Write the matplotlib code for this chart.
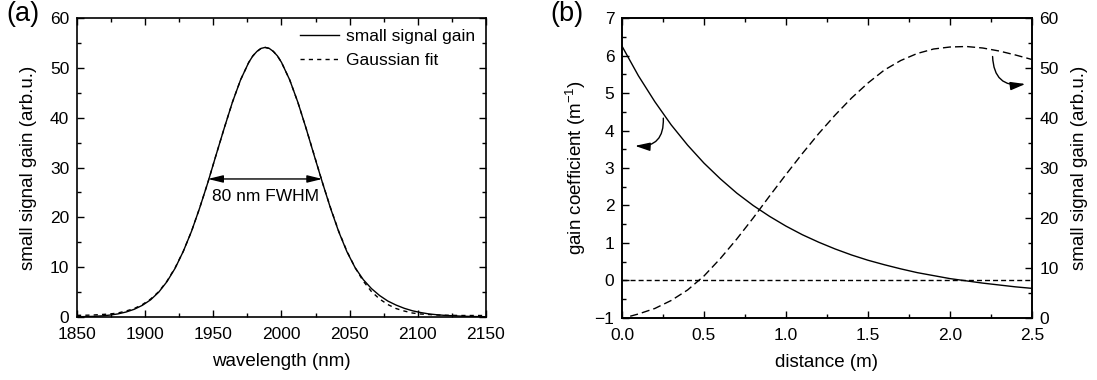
import matplotlib
matplotlib.use("Agg")
import matplotlib.pyplot as plt
from matplotlib.patches import FancyArrowPatch
from matplotlib.ticker import MultipleLocator

plt.rcParams['font.family'] = ['Liberation Sans', 'DejaVu Sans']
plt.rcParams['mathtext.fontset'] = 'custom'
plt.rcParams['mathtext.rm'] = 'Liberation Sans'
plt.rcParams['mathtext.default'] = 'regular'

# ---- panel (a): gain spectrum ----
wavelength = [1850, 1856, 1862, 1868, 1874, 1880, 1886, 1892, 1898, 1904,
              1910, 1916, 1922, 1928, 1934, 1940, 1946, 1952, 1958, 1964,
              1970, 1976, 1979, 1982, 1985, 1988, 1991, 1994, 1997, 2000,
              2006, 2012, 2018, 2024, 2030, 2036, 2042, 2048, 2054, 2060,
              2066, 2072, 2078, 2084, 2090, 2096, 2102, 2108, 2114, 2120,
              2126, 2132, 2138, 2144, 2150]
small_signal_gain = [0.05, 0.08, 0.13, 0.22, 0.38, 0.62, 1.0, 1.55, 2.35, 3.45,
                     5.0, 7.1, 9.8, 13.2, 17.2, 21.9, 27.0, 32.5, 37.9, 43.1,
                     47.6, 51.1, 52.4, 53.3, 53.9, 54.1, 53.9, 53.3, 52.4, 51.1,
                     47.6, 43.1, 37.9, 32.4, 27.0, 21.8, 17.1, 13.1, 9.9, 7.5,
                     5.7, 4.3, 3.2, 2.4, 1.75, 1.25, 0.9, 0.62, 0.45, 0.32,
                     0.24, 0.17, 0.12, 0.08, 0.05]
gaussian_fit = [0.33, 0.35, 0.4, 0.5, 0.6, 0.8, 1.2, 1.7, 2.5, 3.6,
                5.1, 7.2, 9.9, 13.2, 17.2, 21.9, 27.0, 32.5, 37.9, 43.1,
                47.6, 51.1, 52.4, 53.3, 53.9, 54.1, 53.9, 53.3, 52.4, 51.1,
                47.6, 43.1, 37.9, 32.5, 27.0, 21.9, 17.2, 13.2, 9.9, 7.2,
                5.1, 3.6, 2.5, 1.7, 1.2, 0.8, 0.6, 0.5, 0.4, 0.35,
                0.33, 0.3, 0.3, 0.3, 0.3]
fwhm_edges = [1946, 2030]
fwhm_level = 27.7

# ---- panel (b): gain along the fibre ----
distance = [0.0, 0.1, 0.2, 0.3, 0.4, 0.5, 0.6, 0.7, 0.8, 0.9, 1.0, 1.1, 1.2,
            1.3, 1.4, 1.5, 1.6, 1.7, 1.8, 1.9, 2.0, 2.1, 2.2, 2.3, 2.4, 2.5]
gain_coefficient = [6.25, 5.46, 4.77, 4.15, 3.61, 3.13, 2.71, 2.33, 2.00, 1.71,
                    1.45, 1.22, 1.02, 0.84, 0.68, 0.54, 0.42, 0.31, 0.21, 0.13,
                    0.05, -0.01, -0.07, -0.12, -0.17, -0.21]
distance_g = [0.05, 0.1, 0.2, 0.3, 0.4, 0.5, 0.6, 0.7, 0.8, 0.9, 1.0, 1.1, 1.2,
              1.3, 1.4, 1.5, 1.6, 1.7, 1.8, 1.9, 2.0, 2.1, 2.2, 2.3, 2.4, 2.5]
cumulative_gain = [0.35, 0.8, 1.9, 3.5, 5.6, 8.4, 11.9, 15.8, 20.0, 24.4, 28.7,
                   32.9, 36.9, 40.6, 44.0, 47.0, 49.6, 51.5, 52.9, 53.8, 54.2,
                   54.3, 54.0, 53.4, 52.6, 51.7]

TICK_FS = 12.5
LABEL_FS = 13.5
PANEL_FS = 19.5

fig = plt.figure(figsize=(10.97, 3.80), dpi=100)
ax_a = fig.add_axes([0.0702, 0.1658, 0.3728, 0.7868])
ax_b = fig.add_axes([0.5670, 0.1632, 0.3737, 0.7894])
ax_b2 = ax_b.twinx()


def style_ticks(ax, **sides):
    ax.tick_params(which='both', direction='in', labelsize=TICK_FS, **sides)
    ax.tick_params(axis='x', which='both', pad=7)
    ax.tick_params(axis='y', which='both', pad=5.5)
    ax.tick_params(which='major', length=5, width=1)
    ax.tick_params(which='minor', length=3, width=1)
    for sp in ax.spines.values():
        sp.set_linewidth(1.2)


# panel (a)
ax_a.plot(wavelength, small_signal_gain, color='black', lw=1.0, label='small signal gain')
ax_a.plot(wavelength, gaussian_fit, color='black', lw=1.0, dashes=(3, 3), label='Gaussian fit')
ax_a.set_xlim(1850, 2150)
ax_a.set_ylim(0, 60)
ax_a.xaxis.set_major_locator(MultipleLocator(50))
ax_a.xaxis.set_minor_locator(MultipleLocator(25))
ax_a.yaxis.set_major_locator(MultipleLocator(10))
ax_a.yaxis.set_minor_locator(MultipleLocator(5))
style_ticks(ax_a, top=True, right=True)
ax_a.set_xlabel('wavelength (nm)', fontsize=LABEL_FS, labelpad=8)
ax_a.set_ylabel('small signal gain (arb.u.)', fontsize=LABEL_FS, labelpad=9)
ax_a.legend(loc='upper right', frameon=False, fontsize=TICK_FS, handlelength=2.2,
            handletextpad=0.4, labelspacing=0.5, borderaxespad=0.25)
fw = FancyArrowPatch((fwhm_edges[0], fwhm_level), (fwhm_edges[1], fwhm_level),
                     arrowstyle='<|-|>,head_length=0.9,head_width=0.22',
                     mutation_scale=10, color='black', lw=1.0,
                     shrinkA=0, shrinkB=0)
ax_a.add_patch(fw)
ax_a.text(sum(fwhm_edges) / 2, fwhm_level - 3.6, '80 nm FWHM', ha='center',
          va='center', fontsize=TICK_FS)
fig.text(0.006, 0.962, '(a)', fontsize=PANEL_FS, ha='left', va='center')

# panel (b)
ax_b.plot(distance, gain_coefficient, color='black', lw=1.0)
ax_b.axhline(0, color='black', lw=1.0, dashes=(3.6, 2.2))
ax_b2.plot(distance_g, cumulative_gain, color='black', lw=1.0, dashes=(5.8, 2.9))
ax_b.set_xlim(0, 2.5)
ax_b.set_ylim(-1, 7)
ax_b2.set_ylim(0, 60)
ax_b.xaxis.set_major_locator(MultipleLocator(0.5))
ax_b.xaxis.set_minor_locator(MultipleLocator(0.25))
ax_b.yaxis.set_major_locator(MultipleLocator(1))
ax_b.yaxis.set_minor_locator(MultipleLocator(0.5))
ax_b2.yaxis.set_major_locator(MultipleLocator(10))
ax_b2.yaxis.set_minor_locator(MultipleLocator(5))
ax_b.xaxis.set_major_formatter(plt.FormatStrFormatter('%.1f'))
style_ticks(ax_b, top=True, right=False)
style_ticks(ax_b2, right=True, left=False)
ax_b.set_xlabel('distance (m)', fontsize=LABEL_FS, labelpad=8)
ax_b.set_ylabel('gain coefficient (m$^{-1}$)', fontsize=LABEL_FS, labelpad=5)
ax_b2.set_ylabel('small signal gain (arb.u.)', fontsize=LABEL_FS, labelpad=9)

left_arrow = FancyArrowPatch((0.252, 4.33), (0.079, 3.59),
                             connectionstyle='arc3,rad=-0.55',
                             arrowstyle='-|>,head_length=0.9,head_width=0.25',
                             mutation_scale=10, color='black', lw=1.0,
                             shrinkA=0, shrinkB=0)
ax_b.add_patch(left_arrow)
right_arrow = FancyArrowPatch((2.26, 52.3), (2.46, 46.8),
                              connectionstyle='arc3,rad=0.55',
                              arrowstyle='-|>,head_length=0.9,head_width=0.25',
                              mutation_scale=10, color='black', lw=1.0,
                              shrinkA=0, shrinkB=0)
ax_b2.add_patch(right_arrow)
fig.text(0.502, 0.962, '(b)', fontsize=PANEL_FS, ha='left', va='center')

fig.savefig('out.png', dpi=100)
